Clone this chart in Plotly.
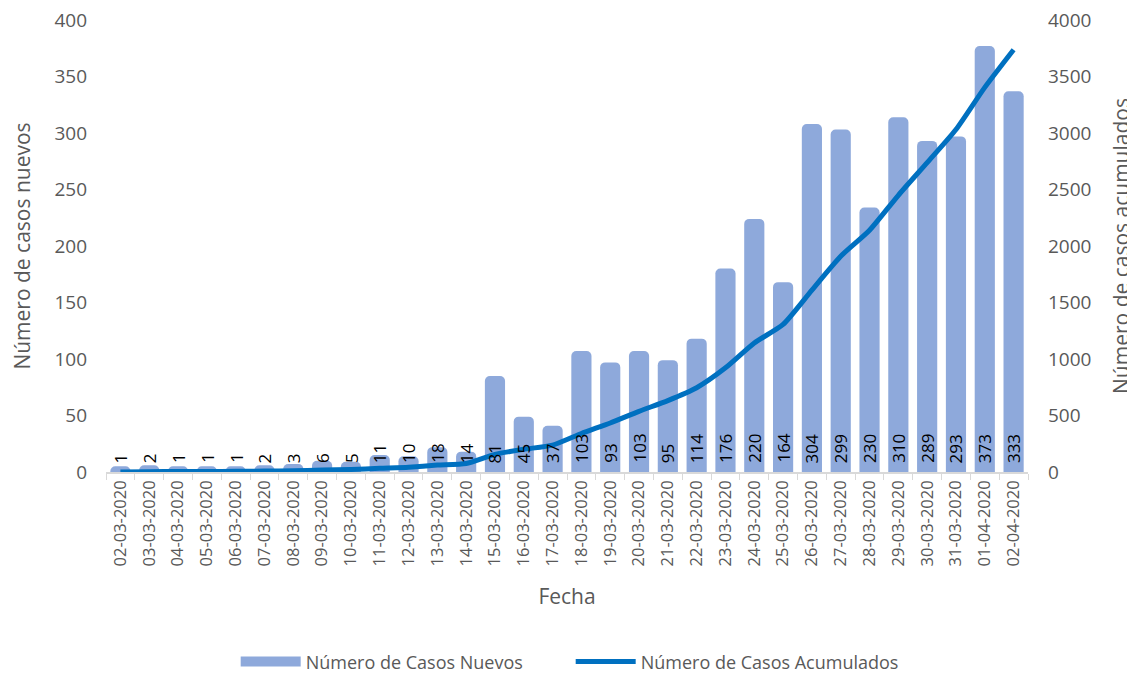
import plotly.graph_objects as go

fechas = ["02-03-2020","03-03-2020","04-03-2020","05-03-2020","06-03-2020","07-03-2020",
          "08-03-2020","09-03-2020","10-03-2020","11-03-2020","12-03-2020","13-03-2020",
          "14-03-2020","15-03-2020","16-03-2020","17-03-2020","18-03-2020","19-03-2020",
          "20-03-2020","21-03-2020","22-03-2020","23-03-2020","24-03-2020","25-03-2020",
          "26-03-2020","27-03-2020","28-03-2020","29-03-2020","30-03-2020","31-03-2020",
          "01-04-2020","02-04-2020"]
# data labels shown in the chart
casos_nuevos = [1,2,1,1,1,2,3,6,5,11,10,18,14,81,45,37,103,93,103,95,114,176,220,164,
                304,299,230,310,289,293,373,333]
# bar heights as drawn in the picture
altura_barras = [5,6,5,5,5,6,7,10,9,15,14,22,18,85,49,41,107,97,107,99,118,180,224,168,
                 308,303,234,314,293,297,377,337]
casos_acumulados = [1,3,4,5,6,8,11,17,22,33,43,61,75,156,201,238,341,434,537,632,746,922,
                    1142,1306,1610,1909,2139,2449,2738,3031,3404,3737]

COLOR_BARRA = "#8EA9DB"
COLOR_LINEA = "#0070C0"

fig = go.Figure()
fig.add_trace(go.Bar(
    x=fechas, y=altura_barras, name="Número de Casos Nuevos", showlegend=False,
    marker=dict(color=COLOR_BARRA, line=dict(width=0)),
    yaxis="y", hoverinfo="skip",
))
# legend swatch for the bars (wide rectangle, as in the reference)
fig.add_trace(go.Scatter(
    x=[None], y=[None], name="Número de Casos Nuevos", mode="lines",
    line=dict(color=COLOR_BARRA, width=20), yaxis="y", hoverinfo="skip",
))
fig.add_trace(go.Scatter(
    x=fechas, y=casos_acumulados, name="Número de Casos Acumulados",
    mode="lines", line=dict(color=COLOR_LINEA, width=5, shape="spline", smoothing=0.6),
    yaxis="y2",
))

# data labels at the base of each bar, drawn above the line
for f, v in zip(fechas, casos_nuevos):
    fig.add_annotation(
        x=f, y=0, xref="x", yref="y", text=str(v), showarrow=False,
        textangle=-90, xanchor="center", yanchor="bottom", yshift=7,
        font=dict(color="black", size=17, family="Open Sans"),
    )

title_font = dict(family="Open Sans", size=21, color="#595959")
fig.update_layout(
    width=1127, height=665,
    margin=dict(l=98, r=107, t=12, b=201, autoexpand=False),
    paper_bgcolor="white", plot_bgcolor="white",
    bargap=0.3, barcornerradius=5,
    font=dict(family="Open Sans", color="#595959"),
    xaxis=dict(
        title=dict(text="Fecha", font=title_font, standoff=24),
        tickangle=-90, tickfont=dict(family="Open Sans", size=16.5, color="#595959"),
        showgrid=False, automargin=False,
        showline=True, linecolor="#D9D9D9", linewidth=1.5,
        ticks="outside", tickson="boundaries", ticklen=6, tickcolor="#D9D9D9",
    ),
    yaxis=dict(
        title=dict(text="Número de casos nuevos", font=title_font, standoff=20),
        range=[0, 400], dtick=50, tickfont=dict(family="Open Sans", size=19, color="#595959"),
        showgrid=False, zeroline=False, automargin=False, ticklabeloverflow="allow",
        ticks="", ticklabelstandoff=18,
    ),
    yaxis2=dict(
        title=dict(text="Número de casos acumulados", font=title_font, standoff=28),
        range=[0, 4000], dtick=500, tickfont=dict(family="Open Sans", size=19, color="#595959"),
        showgrid=False, zeroline=False, automargin=False, ticklabeloverflow="allow",
        overlaying="y", side="right", ticks="", ticklabelstandoff=19,
    ),
    legend=dict(orientation="h", x=0.504, xanchor="center", y=-0.42, yanchor="middle",
                font=dict(size=18, color="#595959"), itemwidth=60,
                entrywidth=260, entrywidthmode="pixels"),
    showlegend=True,
)

fig.write_html("out.html")
